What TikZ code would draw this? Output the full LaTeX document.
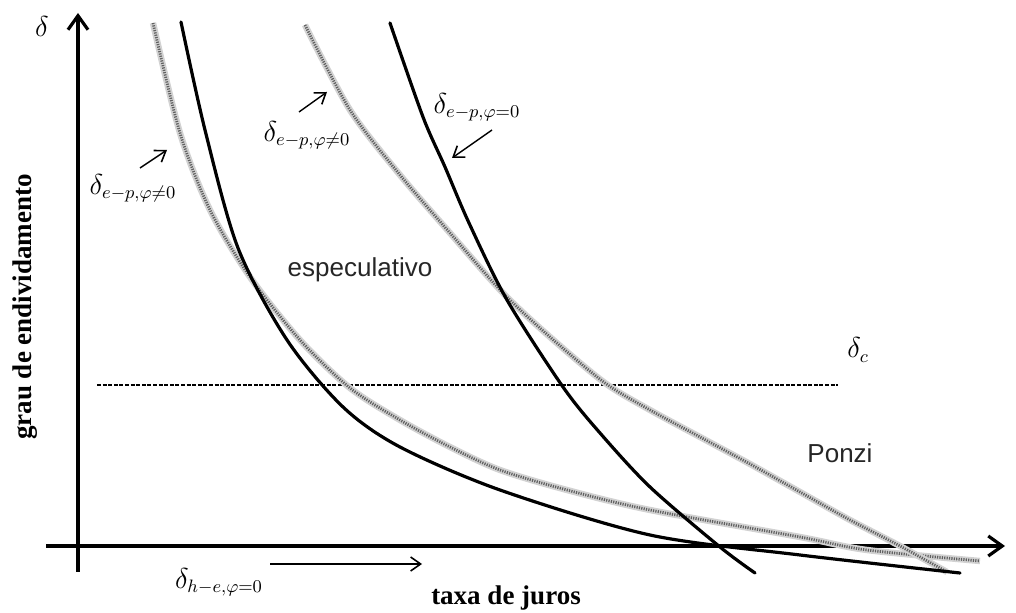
\documentclass[tikz,border=0pt]{standalone}
\usepackage{fontspec}
\setmainfont{Liberation Serif}
\setsansfont{Liberation Sans}
\usetikzlibrary{arrows.meta,positioning}

\newcommand{\smallsub}[1]{\mbox{\fontsize{13}{15}\selectfont$\scriptstyle #1$}}

\tikzset{
    axis/.style={line width=1.8pt, -{Straight Barb[length=7pt,width=10pt,line width=1.6pt]}},
    pointer/.style={line width=0.7pt, -{Straight Barb[length=5pt,width=7pt,line width=0.8pt]}},
    solidcurve/.style={line width=1.6pt, line join=round, line cap=round},
    hatched/.style={line width=3.2pt, draw=gray!35,
        postaction={draw=gray!75!black, line width=1.4pt, dash pattern=on 0.6pt off 0.6pt}},
    region/.style={font=\sffamily\fontsize{13}{15}\selectfont, text=black!85},
    title/.style={font=\bfseries\fontsize{13.5}{16}\selectfont},
    curvelabel/.style={font=\fontsize{15}{18}\selectfont, inner sep=0pt}
}

\begin{document}
\begin{tikzpicture}[x=0.5pt, y=-0.5pt]
    \useasboundingbox (0,0) rectangle (1016,613);

    % Axes
    \coordinate (xstart) at (46,546);
    \coordinate (xend) at (1005,546);
    \coordinate (ystart) at (78,572);
    \coordinate (yend) at (78,13);
    \draw[axis] (xstart) -- (xend);
    \draw[axis] (ystart) -- (yend);
    \node[curvelabel] (deltaaxis) at (42,27) {$\delta$};

    % Axis titles
    \node[title] (xtitle) at (506,598) {taxa de juros};
    \node[title, rotate=90] (ytitle) at (25,307) {grau de endividamento};

    % Critical level
    \draw[line width=0.6pt, dash pattern=on 2pt off 0.8pt] (97,385) coordinate (cstart) -- (838,385) coordinate (cend);
    \node[curvelabel] (deltac) at (858,350) {$\delta_{\smallsub{c}}$};

    % Gray curves (phi != 0)
    \draw[hatched] plot[smooth] coordinates {
        (153,23) (180,133) (210,210) (250,277) (300,340) (350,388) (400,420)
        (450,447) (500,470) (567,490) (650,510) (800,537) (867,550) (980,561)};
    \draw[hatched] plot[smooth] coordinates {
        (305,25) (350,110) (400,175) (450,233) (503,293) (550,337) (605,383)
        (650,410) (700,437) (750,464) (800,492) (850,520) (900,546) (947,572)};

    % Black curves (phi = 0)
    \draw[solidcurve] plot[smooth] coordinates {
        (181,22) (205,130) (238,248) (287,340) (343,407) (400,447) (500,490)
        (650,535) (800,555) (960,573)};
    \draw[solidcurve] plot[smooth] coordinates {
        (390,23) (423,117) (445,167) (469,223) (507,300) (563,387) (600,433)
        (650,487) (720,547) (755,573)};

    % Region names
    \node[region] (spec) at (360,270) {especulativo};
    \node[region] (ponzi) at (840,453) {Ponzi};

    % Curve labels
    \node[curvelabel] (lblleft) at (133,188) {$\delta_{\smallsub{e-p,\varphi\neq 0}}$};
    \node[curvelabel] (lblmid) at (307,135) {$\delta_{\smallsub{e-p,\varphi\neq 0}}$};
    \node[curvelabel] (lblright) at (477,107) {$\delta_{\smallsub{e-p,\varphi=0}}$};
    \node[curvelabel] (lblbottom) at (219,582) {$\delta_{\smallsub{h-e,\varphi=0}}$};

    % Pointers
    \coordinate (pleft) at (167,150);
    \coordinate (pmid) at (327,92);
    \coordinate (pright) at (452,158);
    \coordinate (pbottom) at (422,564);
    \draw[pointer] (140,168) -- (pleft);
    \draw[pointer] (299,112) -- (pmid);
    \draw[pointer] (492,130) -- (pright);
    \draw[pointer] (270,564) -- (pbottom);
\end{tikzpicture}
\end{document}
